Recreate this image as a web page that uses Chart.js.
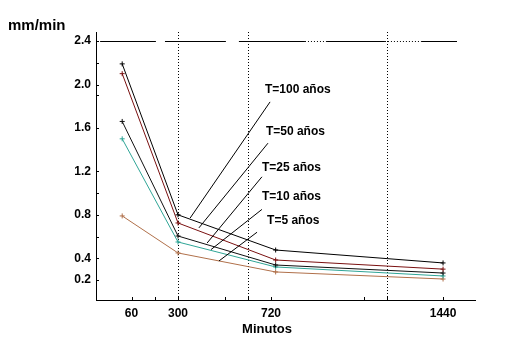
<!DOCTYPE html>
<html>
<head>
<meta charset="utf-8">
<script src="https://cdn.jsdelivr.net/npm/chart.js@4/dist/chart.umd.min.js"></script>
<style>
  html, body { margin: 0; padding: 0; background: #fff; }
  canvas { display: block; }
</style>
</head>
<body>
<canvas id="chart" width="512" height="352"></canvas>
<script>
// duration (minutes) of each point
const minutes = [60, 300, 720, 1440];

// intensity (mm/min) per return period
const t100 = [2.19, 0.80, 0.476, 0.357];
const t50  = [2.10, 0.725, 0.384, 0.30];
const t25  = [1.66, 0.605, 0.338, 0.264];
const t10  = [1.50, 0.55, 0.32, 0.237];
const t5   = [0.79, 0.449, 0.274, 0.209];

const seriesNames = ['T=100 años', 'T=50 años', 'T=25 años', 'T=10 años', 'T=5 años'];

// axis ticks
const yTicks = [0.2, 0.4, 0.6, 0.8, 1.0, 1.2, 1.6, 1.9, 2.0, 2.2, 2.4];
const yTickLabels = { 0.2: '0.2', 0.4: '0.4', 0.8: '0.8', 1.2: '1.2', 1.6: '1.6', 2.0: '2.0', 2.4: '2.4' };
const xTicks = [100, 200, 300, 500, 600, 700, 1100, 1200, 1440];
const xTickLabels = { 100: '60', 300: '300', 700: '720', 1440: '1440' };

// dotted reference lines (minutes)
const refMinutes = [300, 600, 1200];

const colors = ['#000000', '#7a1010', '#101010', '#2fa596', '#b0704a'];

// label placement, in data space: [labelX, labelY, leaderFromX, leaderFromY, leaderToX, leaderToY]
const callouts = [
  [674, 1.95, 696, 1.84, 352, 0.77],
  [678, 1.563, 687, 1.46, 390, 0.68],
  [661, 1.231, 661, 1.15, 425, 0.54],
  [661, 0.964, 661, 0.85, 442, 0.48],
  [683, 0.743, 640, 0.64, 476, 0.375]
];

const FONT = '"Liberation Sans", Arial, sans-serif';

const toPoints = (vals) => vals.map((v, i) => ({ x: minutes[i], y: v }));

const extras = {
  id: 'extras',
  beforeDatasetsDraw(chart) {
    const { ctx, chartArea } = chart;
    const xs = chart.scales.x, ys = chart.scales.y;
    ctx.save();
    ctx.strokeStyle = '#000';
    ctx.lineWidth = 1;
    ctx.setLineDash([1, 2]);
    refMinutes.forEach(m => {
      const px = Math.round(xs.getPixelForValue(m)) + 0.5;
      ctx.beginPath();
      ctx.moveTo(px, chartArea.top);
      ctx.lineTo(px, chartArea.bottom);
      ctx.stroke();
    });

    // the 2.4 line across the top, with a few broken pieces
    const py = Math.round(ys.getPixelForValue(2.4)) + 0.5;
    const solid = [[-35, 205], [244, 506], [562, 846], [941, 1190], [1349, 1500]];
    const dotted = [[846, 941], [1190, 1349]];
    ctx.setLineDash([]);
    solid.forEach(([a, b]) => {
      ctx.beginPath();
      ctx.moveTo(xs.getPixelForValue(a), py);
      ctx.lineTo(xs.getPixelForValue(b), py);
      ctx.stroke();
    });
    ctx.setLineDash([1, 2]);
    dotted.forEach(([a, b]) => {
      ctx.beginPath();
      ctx.moveTo(xs.getPixelForValue(a), py);
      ctx.lineTo(xs.getPixelForValue(b), py);
      ctx.stroke();
    });
    ctx.restore();
  },
  afterDraw(chart) {
    const { ctx, chartArea } = chart;
    const xs = chart.scales.x, ys = chart.scales.y;
    ctx.save();
    ctx.strokeStyle = '#000';
    ctx.lineWidth = 1;

    // inner tick marks
    xs.ticks.forEach(t => {
      const px = Math.round(xs.getPixelForValue(t.value)) + 0.5;
      ctx.beginPath();
      ctx.moveTo(px, chartArea.bottom);
      ctx.lineTo(px, chartArea.bottom - 3);
      ctx.stroke();
    });
    ys.ticks.forEach(t => {
      const py = Math.round(ys.getPixelForValue(t.value)) + 0.5;
      ctx.beginPath();
      ctx.moveTo(chartArea.left, py);
      ctx.lineTo(chartArea.left + 3, py);
      ctx.stroke();
    });

    // leader lines and series labels
    ctx.font = 'bold 12px ' + FONT;
    ctx.fillStyle = '#000';
    ctx.textAlign = 'left';
    ctx.textBaseline = 'middle';
    callouts.forEach((c, i) => {
      ctx.beginPath();
      ctx.moveTo(xs.getPixelForValue(c[2]), ys.getPixelForValue(c[3]));
      ctx.lineTo(xs.getPixelForValue(c[4]), ys.getPixelForValue(c[5]));
      ctx.stroke();
      ctx.fillText(seriesNames[i], xs.getPixelForValue(c[0]), ys.getPixelForValue(c[1]));
    });

    // axis titles
    ctx.font = 'bold 15px ' + FONT;
    ctx.fillText('mm/min', 8, 26);
    ctx.font = 'bold 13px ' + FONT;
    ctx.textAlign = 'center';
    ctx.fillText('Minutos', 267, 329);
    ctx.restore();
  }
};

const datasets = [t100, t50, t25, t10, t5].map((vals, i) => ({
  label: seriesNames[i],
  data: toPoints(vals),
  borderColor: colors[i],
  backgroundColor: colors[i],
  borderWidth: 1,
  pointStyle: 'cross',
  pointRadius: 2.5,
  pointBorderWidth: 1,
  tension: 0
}));

new Chart(document.getElementById('chart'), {
  type: 'line',
  data: { datasets },
  options: {
    responsive: false,
    animation: false,
    layout: { padding: { left: 0, right: 37, top: 32, bottom: 0 } },
    plugins: { legend: { display: false }, tooltip: { enabled: false } },
    scales: {
      x: {
        type: 'linear',
        min: -52.7,
        max: 1577.4,
        afterBuildTicks(scale) { scale.ticks = xTicks.map(v => ({ value: v })); },
        afterFit(scale) { scale.height = 52; },
        grid: { display: true, drawOnChartArea: false, drawTicks: false, tickLength: 0 },
        border: { display: true, color: '#000', width: 1 },
        ticks: {
          autoSkip: false,
          maxRotation: 0,
          padding: 6,
          color: '#000',
          font: { family: FONT, size: 12, weight: 'bold' },
          callback: (v) => xTickLabels[v] || ''
        }
      },
      y: {
        type: 'linear',
        min: 0.0158,
        max: 2.4836,
        afterBuildTicks(scale) { scale.ticks = yTicks.map(v => ({ value: v })); },
        afterFit(scale) { scale.width = 96; },
        grid: { display: true, drawOnChartArea: false, drawTicks: false, tickLength: 0 },
        border: { display: true, color: '#000', width: 1 },
        ticks: {
          autoSkip: false,
          padding: 5,
          color: '#000',
          font: { family: FONT, size: 12, weight: 'bold' },
          callback: (v) => yTickLabels[Math.round(v * 10) / 10] || ''
        }
      }
    }
  },
  plugins: [extras]
});
</script>
</body>
</html>
